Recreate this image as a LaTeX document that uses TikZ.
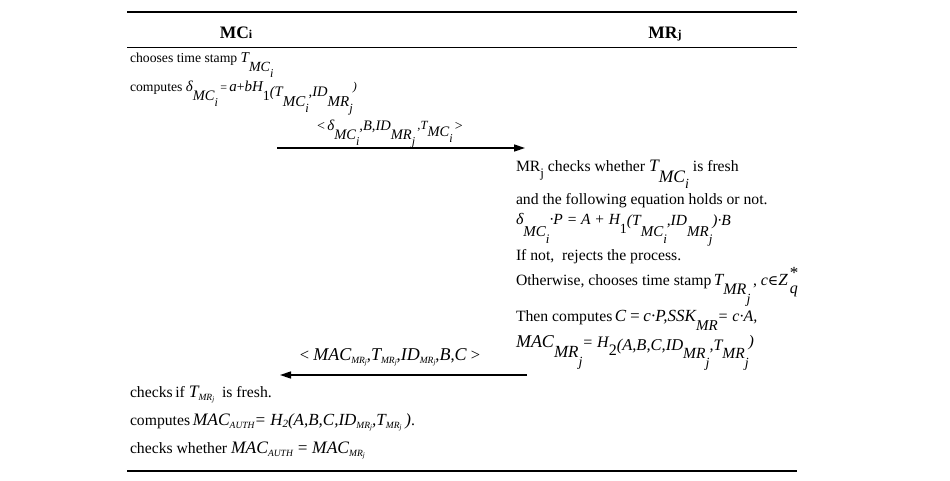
\documentclass[tikz,border=0pt]{standalone}
\usepackage{fontspec}
\setmainfont{Liberation Serif}
\newfontfamily\djv{DejaVu Serif}
\usetikzlibrary{arrows.meta}
\newcommand\fs[1]{\fontsize{#1pt}{#1pt}\selectfont}
\newcommand\I[2]{{\fs{#1}\itshape #2}}
\newcommand\dn[3]{\raisebox{-#1pt}{\fontsize{#2pt}{#2pt}\selectfont\itshape #3}}
\newcommand\tmr{\dn{3}{9.5}{MR\dn{1.5}{7}{j}}}
\begin{document}
\begin{tikzpicture}[x=1pt,y=-1pt,
  txt/.style={anchor=base west, inner sep=0pt, outer sep=0pt},
  ctxt/.style={anchor=base, inner sep=0pt, outer sep=0pt},
  hdr/.style={anchor=base, inner sep=0pt, font={\fs{17.5}\bfseries}},
  thickrule/.style={line width=1.5pt},
  thinrule/.style={line width=0.9pt},
  msg/.style={line width=1.5pt, -{Triangle[length=11pt,width=7pt]}}]
\useasboundingbox (0,0) rectangle (950,480);
% rules
\draw[thickrule] (127,12) -- (797,12);
\draw[thinrule] (127,47) -- (797,47);
\draw[thickrule] (127,471) -- (797,471);
% headers
\node[hdr] (h1) at (236,38) {MC{\fs{12}i}};
\node[hdr] (h2) at (665,38) {MR{\fs{12}j}};
% left top
\node[txt,font={\fs{13.7}}] (l1) at (130,62) {chooses time stamp \I{15}{T}\dn{9}{14}{MC\dn{6}{12}{i}}};
\node[txt,font={\fs{13.7}}] (l2) at (130,91) {computes \I{15}{δ}\dn{9}{14.5}{MC\dn{6}{12}{i}}\,{\fs{12}=}\,\I{15}{a}+\I{15}{bH}\dn{9}{14}{\upshape 1}\dn{5}{14.5}{(T}\dn{15}{15}{MC\dn{6}{12.5}{i}}\dn{5}{14.5}{,ID}\dn{15}{15}{MR\dn{6}{12.5}{j}}\dn{-1}{12}{)}};
% message 1
\node[ctxt,font={\fs{14}}] (m1) at (390,130) {<\,\I{15}{δ}\dn{9}{14.5}{MC\dn{6}{12}{i}}\I{14.5}{,B,ID}\dn{9}{14.5}{MR\dn{6}{12}{j}}\,\dn{-1}{12.5}{,T}\dn{6}{14.5}{MC\dn{6}{12}{i}}\,>};
\coordinate (a1s) at (277,148);
\coordinate (a1e) at (525,148);
\draw[msg] (a1s) -- (a1e);
% right block
\node[txt,font={\fs{15.7}}] (r1) at (516,171) {MR\dn{6}{13}{\upshape j} checks whether \I{17.5}{T}\dn{11}{17.5}{MC\dn{6}{14}{i}} is fresh};
\node[txt,font={\fs{15.7}}] (r2) at (516,204) {and the following equation holds or not.};
\node[txt,font={\fs{15.7}}] (r3) at (516,224) {\I{16}{δ}\dn{12}{15}{MC\dn{7}{13}{i}}\I{15.5}{·P = A + H}\dn{9}{14}{\upshape 1}\dn{1}{15.5}{(T}\dn{12}{15}{MC\dn{7}{13}{i}}\dn{1}{15.5}{,ID}\dn{12}{15}{MR\dn{7}{13}{j}}\dn{1}{15.5}{)·B}};
\node[txt,font={\fs{15.7}}] (r4) at (516,260) {If not,\ \ rejects the process.};
\node[txt,font={\fs{15.7}}] (r5) at (516,285) {Otherwise, chooses time stamp\,\I{17}{T}\dn{9}{16}{MR\dn{9}{14}{j}}\,, \I{16}{c}{\djv\fs{14}∈}\I{17}{Z}\kern2pt\makebox[0pt][l]{\raisebox{7pt}{\fs{17}*}}\dn{8}{16}{q}};
\node[txt,font={\fs{15.7}}] (r6) at (516,321) {Then computes\,\I{17}{C\,=\,c·P,SSK}\dn{9}{15}{MR}\I{16}{= c·A,}};
\node[txt,font={\fs{15.7}}] (r7) at (516,347) {\I{18}{MAC}\dn{10}{17}{MR\dn{9}{14}{j}}\I{16}{= H}\dn{8}{16}{\upshape 2}\dn{3}{16.5}{(A,B,C,ID}\dn{11}{15.5}{MR\dn{9}{14}{j}}\dn{3}{16}{,T}\dn{11}{15.5}{MR\dn{9}{14}{j}}\dn{-1}{16}{)}};
% message 2
\node[ctxt,font={\fs{16.5}}] (m2) at (390,360) {< \I{18}{MAC}\tmr,\I{18}{T}\tmr,\I{18}{ID}\tmr,\I{18}{B},\I{18}{C} >};
\coordinate (a2s) at (527,375);
\coordinate (a2e) at (280,375);
\draw[msg] (a2s) -- (a2e);
% left bottom
\node[txt,font={\fs{15.7}}] (b1) at (130,397) {checks\,if \I{17.5}{T}\tmr\ \ is fresh.};
\node[txt,font={\fs{15.7}}] (b2) at (130,425) {computes\,\I{17.5}{MAC}\dn{3}{9.5}{AUTH}\I{17}{= H}\dn{2}{11}{2}\I{17}{(A,B,C,ID}\tmr\I{17}{,T}\tmr\ \I{17}{)}.};
\node[txt,font={\fs{15.7}}] (b3) at (130,453) {checks whether \I{17.5}{MAC}\dn{3}{9.5}{AUTH} \I{17}{=} \I{17.5}{MAC}\tmr};
\end{tikzpicture}
\end{document}
